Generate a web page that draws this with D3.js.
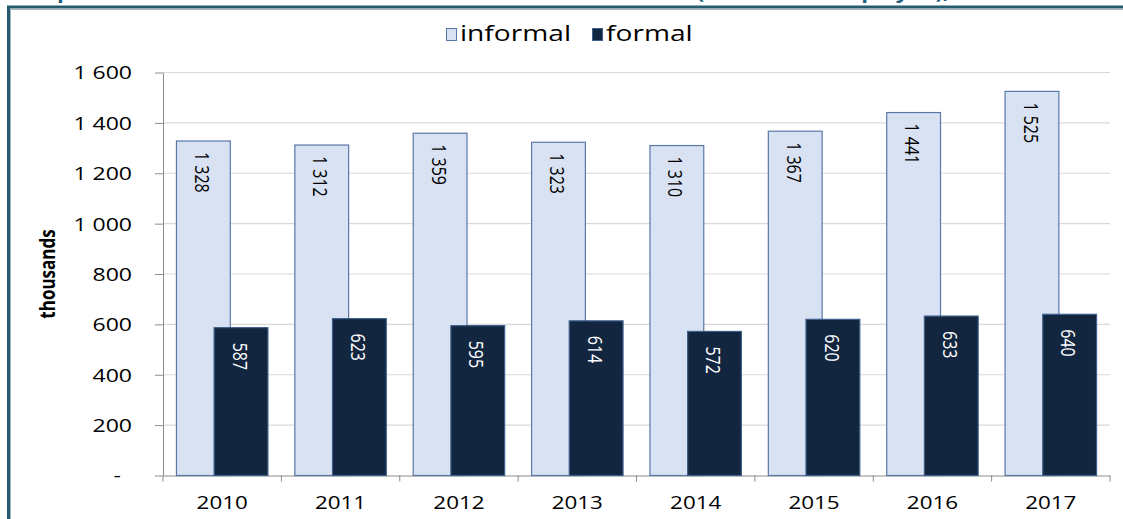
<!DOCTYPE html>
<html>
<head>
<meta charset="utf-8">
<script src="https://cdn.jsdelivr.net/npm/d3@7"></script>
<style>
  body { margin: 0; background: #ffffff; }
  svg { display: block; font-family: "Open Sans", sans-serif; }
</style>
</head>
<body>
<div id="chart"></div>
<script>
// Data (thousands)
const years = ["2010", "2011", "2012", "2013", "2014", "2015", "2016", "2017"];
const informal = [1328, 1312, 1359, 1323, 1310, 1367, 1441, 1525];
const formal = [587, 623, 595, 614, 572, 620, 633, 640];
const seriesNames = ["informal", "formal"];
const yTicks = [0, 200, 400, 600, 800, 1000, 1200, 1400, 1600];
const titleText = "Graph 3: Informal and formal workers in the non-farm sector (thousands employed), 2010-2017";

// The reference text is a little wider than it is tall, so all text gets stretched by this
const SX = 1.28;

let width = 1123, height = 519;

// Numbers use a space as thousands separator ("1 328")
let fmt = d3.formatLocale({decimal: ".", thousands: " ", grouping: [3], currency: ["", ""]}).format(",");

let svg = d3.select("#chart").append("svg")
    .attr("width", width)
    .attr("height", height);

svg.append("rect").attr("width", width).attr("height", height).attr("fill", "#ffffff");

// Scales
let x = d3.scaleBand()
    .domain(years)
    .range([163, 1110]);

let y = d3.scaleLinear()
    .domain([0, 1600])
    .range([475.5, 72.5]);

let color = d3.scaleOrdinal()
    .domain(seriesNames)
    .range(["#d9e2f3", "#12263f"]);
let strokeColor = d3.scaleOrdinal()
    .domain(seriesNames)
    .range(["#5878a6", "#3f5f8c"]);

// Title (only the descenders show above the frame, like in the reference)
let title = svg.append("text")
    .attr("font-size", 18)
    .attr("font-weight", "bold")
    .attr("fill", "#1f5f80")
    .text(titleText);
let pPos = title.node().getStartPositionOfChar(titleText.indexOf("p")).x;
let openPos = title.node().getStartPositionOfChar(titleText.indexOf("(")).x;
let titleScale = (697 - 57) / (openPos - pPos);
title.attr("transform", `translate(${57 - pPos * titleScale},-1.5) scale(${titleScale},1)`);

// Frame round the chart: dark teal line with a thin grey shadow inside
svg.append("path")
    .attr("d", `M10.5,${height} V9.5 H${width}`)
    .attr("fill", "none")
    .attr("stroke", "#a9b3b8")
    .attr("stroke-width", 1);
svg.append("path")
    .attr("d", `M8.5,${height} V7 H${width}`)
    .attr("fill", "none")
    .attr("stroke", "#245b6e")
    .attr("stroke-width", 3);

// Horizontal gridlines
svg.append("g")
    .selectAll("line")
    .data(yTicks.filter(d => d > 0))
    .join("line")
    .attr("x1", x.range()[0])
    .attr("x2", x.range()[1])
    .attr("y1", d => y(d))
    .attr("y2", d => y(d))
    .attr("stroke", "#d9d9d9")
    .attr("stroke-width", 1.2);

// Y axis
let yAxis = svg.append("g")
    .attr("transform", "translate(163,0)")
    .call(d3.axisLeft(y)
        .tickValues(yTicks)
        .tickSize(8)
        .tickSizeOuter(0)
        .tickFormat(d => d === 0 ? "-" : fmt(d)));
yAxis.select(".domain").attr("stroke", "#8c8c8c");
yAxis.selectAll(".tick line").attr("stroke", "#8c8c8c");
yAxis.selectAll(".tick text")
    .attr("font-size", 18)
    .attr("font-family", "Open Sans")
    .attr("fill", "#000000")
    .attr("x", d => d === 0 ? -42 / SX : -31 / SX)
    .attr("dy", "0.36em")
    .attr("transform", `scale(${SX},1)`);

// X axis: labels at the category centres, ticks at the category edges
let xAxis = svg.append("g")
    .attr("transform", "translate(0,475.5)")
    .call(d3.axisBottom(x).tickSize(0).tickSizeOuter(0));
xAxis.select(".domain").attr("stroke", "#8c8c8c");
xAxis.selectAll(".tick text")
    .attr("font-size", 17.5)
    .attr("font-family", "Open Sans")
    .attr("fill", "#000000")
    .attr("y", 27.5)
    .attr("dy", "0.36em")
    .attr("transform", `scale(${SX},1)`);
xAxis.selectAll(".edge")
    .data(years.map(d => x(d)).concat([x.range()[1]]))
    .join("line")
    .attr("class", "edge")
    .attr("x1", d => d)
    .attr("x2", d => d)
    .attr("y1", 0)
    .attr("y2", 6)
    .attr("stroke", "#8c8c8c");

// Bars: 50% gap width, 30% overlap (like the spreadsheet chart)
let barW = x.bandwidth() / 2.2;
let gap = barW * 0.25;
let barX = {
    informal: d => x(d) + gap,
    formal: d => x(d) + gap + barW * 0.7
};
let seriesValues = {informal: informal, formal: formal};
let labelOffset = {informal: 11, formal: 15};
let labelColor = {informal: "#000000", formal: "#ffffff"};

for (let name of seriesNames) {
    let values = seriesValues[name];
    let g = svg.append("g").attr("class", "series-" + name);

    g.selectAll("rect")
        .data(years)
        .join("rect")
        .attr("x", d => barX[name](d))
        .attr("y", (d, i) => y(values[i]))
        .attr("width", barW)
        .attr("height", (d, i) => y(0) - y(values[i]))
        .attr("fill", color(name))
        .attr("stroke", strokeColor(name))
        .attr("stroke-width", 1.2);

    // Value labels, rotated to read top to bottom, just inside the top of the bar
    g.selectAll("text")
        .data(years)
        .join("text")
        .attr("transform", (d, i) => `translate(${barX[name](d) + barW / 2},${y(values[i]) + labelOffset[name]}) rotate(90) scale(1,${SX})`)
        .attr("text-anchor", "start")
        .attr("dominant-baseline", "central")
        .attr("font-size", 16)
        .attr("fill", labelColor[name])
        .text((d, i) => fmt(values[i]));
}

// Y axis title
svg.append("text")
    .attr("transform", `translate(47,274) rotate(-90) scale(1,${SX})`)
    .attr("text-anchor", "middle")
    .attr("dominant-baseline", "central")
    .attr("font-size", 17)
    .attr("font-weight", "bold")
    .attr("fill", "#000000")
    .text("thousands");

// Legend
let legendItems = [
    {name: "informal", square: 446, text: 460},
    {name: "formal", square: 592, text: 606}
];
let legend = svg.append("g");
for (let item of legendItems) {
    legend.append("rect")
        .attr("x", item.square + 0.5)
        .attr("y", 28.5)
        .attr("width", 10)
        .attr("height", 12)
        .attr("fill", color(item.name))
        .attr("stroke", strokeColor(item.name))
        .attr("stroke-width", 1);
    legend.append("text")
        .attr("transform", `translate(${item.text},41) scale(${SX},1)`)
        .attr("font-size", 22)
        .attr("fill", "#000000")
        .text(item.name);
}
</script>
</body>
</html>
